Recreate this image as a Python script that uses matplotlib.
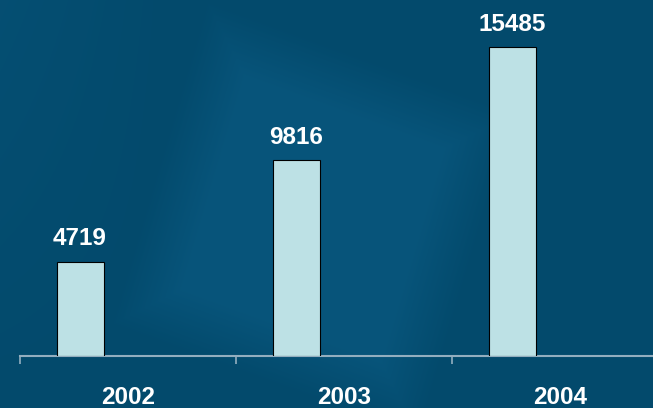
import numpy as np
import matplotlib
matplotlib.use("Agg")
import matplotlib.pyplot as plt
from matplotlib.colors import to_rgb

years = ["2002", "2003", "2004"]
values = [4719, 9816, 15485]

W, H, DPI = 653, 408, 100
BG = "#034a6c"
BG_LIGHT = "#0a5a82"
BAR = "#bde1e5"
AXIS = "#93aebf"

fig = plt.figure(figsize=(W / DPI, H / DPI), dpi=DPI)
fig.patch.set_facecolor(BG)

# soft decorative backdrop: a tilted lighter square with blurred edges
bg_ax = fig.add_axes([0, 0, 1, 1], zorder=0)
bg_ax.set_axis_off()
yy, xx = np.mgrid[0:H, 0:W].astype(float)
corners = np.array([[225, 37], [480, 130], [400, 400], [145, 307]], float)
sdf = np.full((H, W), -np.inf)
centre = corners.mean(axis=0)
for k in range(4):
    p, q = corners[k], corners[(k + 1) % 4]
    d = q - p
    n = np.array([d[1], -d[0]]) / np.hypot(*d)
    if np.dot(centre - p, n) > 0:
        n = -n
    sdf = np.maximum(sdf, (xx - p[0]) * n[0] + (yy - p[1]) * n[1])
mask = np.clip(0.5 - sdf / 60.0, 0, 1) * 0.65
# faint lighter haze along the upper left
mask = np.maximum(mask, 0.3 * np.clip(1 - xx / 180.0, 0, 1) * np.clip(1 - yy / 420.0, 0, 1))
c0 = np.array(to_rgb(BG))
c1 = np.array(to_rgb(BG_LIGHT))
img = c0 + (c1 - c0) * mask[..., None]
bg_ax.imshow(img, extent=[0, W, H, 0], aspect="auto", interpolation="bilinear")
bg_ax.set_xlim(0, W)
bg_ax.set_ylim(H, 0)

# chart axes: categories span 216 px each, starting at x = 20 px
left_px, cat_px, base_px = 20, 216, 355.5
ax = fig.add_axes([left_px / W, (H - base_px) / H, 3 * cat_px / W, base_px / H], zorder=1)
ax.patch.set_alpha(0)
x = np.arange(len(years))
ax.bar(x - 0.222, values, width=0.218, color=BAR, edgecolor="black", linewidth=0.8, zorder=3)
ax.set_xlim(-0.5, 2.5)
ax.set_ylim(0, 17870)

for s in ["top", "right", "left"]:
    ax.spines[s].set_visible(False)
ax.spines["bottom"].set_color(AXIS)
ax.spines["bottom"].set_linewidth(1.5)
ax.set_yticks([])
ax.set_xticks([-0.5, 0.5, 1.5, 2.5])
ax.set_xticklabels([])
ax.tick_params(axis="x", direction="out", length=6, width=1.2, color=AXIS)

font = dict(family=["Liberation Sans", "DejaVu Sans"], weight="bold", size=17.5, color="white")
for xi, v in zip(x, values):
    ax.annotate(f"{v}", xy=(xi - 0.222, v), xytext=(0, 12), textcoords="offset points",
                ha="center", va="baseline", **font)
for xi, lab in zip(x, years):
    ax.annotate(lab, xy=(xi, 0), xycoords=("data", "axes fraction"), xytext=(0, -35),
                textcoords="offset points", ha="center", va="baseline",
                annotation_clip=False, **font)

fig.savefig("out.png", dpi=DPI, facecolor=fig.get_facecolor())
